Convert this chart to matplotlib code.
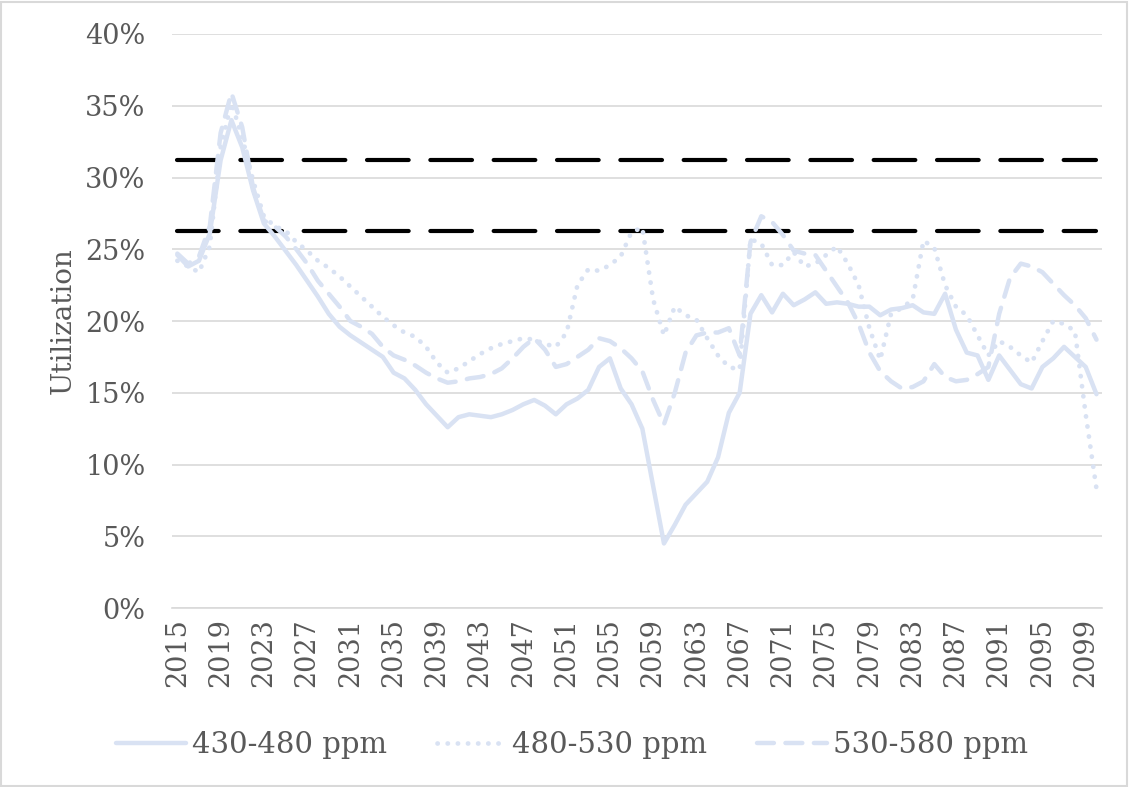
import numpy as np
import matplotlib
matplotlib.use("Agg")
import matplotlib.pyplot as plt
from matplotlib.patches import Rectangle

# annual utilization (%)
years = list(range(2015, 2101))

ppm_430_480 = [
    24.6, 23.8, 24.2, 26.1, 31.2, 34.0, 32.1, 29.1, 26.8, 25.9,   # 2015-2024
    24.9, 23.9, 22.8, 21.7, 20.5, 19.6, 19.0, 18.5, 18.0, 17.5,   # 2025-2034
    16.4, 16.0, 15.2, 14.2, 13.4, 12.6, 13.3, 13.5, 13.4, 13.3,   # 2035-2044
    13.5, 13.8, 14.2, 14.5, 14.1, 13.5, 14.2, 14.6, 15.2, 16.8,   # 2045-2054
    17.4, 15.3, 14.2, 12.5, 8.5, 4.5, 5.8, 7.2, 8.0, 8.8,         # 2055-2064
    10.5, 13.6, 15.0, 20.5, 21.8, 20.6, 21.9, 21.1, 21.5, 22.0,   # 2065-2074
    21.2, 21.3, 21.2, 21.0, 21.0, 20.4, 20.8, 20.9, 21.1, 20.6,   # 2075-2084
    20.5, 21.9, 19.4, 17.8, 17.6, 15.9, 17.6, 16.6, 15.6, 15.3,   # 2085-2094
    16.8, 17.4, 18.2, 17.5, 16.8, 14.9,                           # 2095-2100
]

ppm_480_530 = [
    24.2, 23.8, 23.4, 25.2, 32.1, 35.2, 32.8, 29.8, 27.3, 26.6,
    26.3, 25.5, 24.9, 24.2, 23.7, 23.1, 22.4, 21.7, 21.0, 20.3,
    19.7, 19.2, 18.9, 18.2, 17.1, 16.4, 16.7, 17.2, 17.7, 18.1,
    18.4, 18.6, 18.8, 18.7, 18.4, 18.2, 19.2, 22.5, 23.6, 23.5,
    23.9, 24.5, 26.2, 26.5, 21.5, 19.0, 21.0, 20.4, 20.1, 18.8,
    17.6, 16.8, 16.6, 25.7, 25.4, 23.9, 23.9, 24.8, 23.8, 24.0,
    24.6, 25.2, 24.0, 22.5, 19.5, 17.3, 20.5, 20.9, 21.5, 25.6,
    25.1, 22.5, 21.0, 20.4, 19.0, 17.6, 18.6, 18.2, 17.6, 17.1,
    18.6, 20.0, 19.8, 19.3, 13.5, 8.3,
]

ppm_530_580 = [
    24.7, 24.0, 24.5, 26.6, 33.1, 35.9, 33.5, 29.3, 27.0, 26.6,
    25.9, 25.0, 24.0, 22.8, 21.9, 21.0, 20.0, 19.6, 19.1, 18.2,
    17.6, 17.3, 16.9, 16.4, 16.0, 15.7, 15.8, 16.0, 16.1, 16.3,
    16.7, 17.4, 18.2, 18.8, 18.0, 16.8, 17.0, 17.5, 18.0, 18.8,
    18.6, 18.1, 17.4, 16.5, 14.5, 12.8, 15.0, 17.8, 19.0, 19.2,
    19.2, 19.5, 17.6, 25.5, 27.3, 26.9, 26.0, 24.9, 24.7, 24.6,
    23.5, 22.4, 21.3, 19.8, 17.8, 16.5, 15.8, 15.3, 15.4, 15.8,
    17.0, 16.1, 15.8, 15.9, 16.3, 16.8, 20.5, 23.0, 24.0, 23.8,
    23.4, 22.6, 21.8, 21.1, 20.2, 18.7,
]

upper_limit = 31.2
lower_limit = 26.3

series_color = "#d9e2f3"
text_color = "#595959"
grid_color = "#d9d9d9"

plt.rcParams["font.family"] = ["DejaVu Serif"]

fig = plt.figure(figsize=(11.29, 7.87), dpi=100)
ax = fig.add_axes([0.1523, 0.2274, 0.8237, 0.7294])

y1 = np.array(ppm_430_480) / 100
y2 = np.array(ppm_480_530) / 100
y3 = np.array(ppm_530_580) / 100

ax.plot(years, [upper_limit / 100] * len(years), color="black", lw=3,
        dashes=(10, 5.2), dash_capstyle="round", label="_nolegend_", zorder=2)
ax.plot(years, [lower_limit / 100] * len(years), color="black", lw=3,
        dashes=(10, 5.2), dash_capstyle="round", label="_nolegend_", zorder=2)

ax.plot(years, y1, color=series_color, lw=3.2, solid_joinstyle="round",
        solid_capstyle="round", label="430-480 ppm", zorder=3)
ax.plot(years, y2, color=series_color, lw=3.4, dashes=(0.05, 2.1),
        dash_capstyle="round", label="480-530 ppm", zorder=3)
ax.plot(years, y3, color=series_color, lw=3.2, dashes=(3.8, 2.6),
        dash_capstyle="round", label="530-580 ppm", zorder=3)

ax.set_xlim(2014.5, 2100.5)
ax.set_ylim(0, 0.40)
ax.set_yticks(np.arange(0, 0.401, 0.05))
ax.set_yticklabels([f"{int(round(v * 100))}%" for v in np.arange(0, 0.401, 0.05)])
ax.set_xticks(years[::4])
ax.set_xticklabels([str(y) for y in years[::4]], rotation=90)

ax.grid(axis="y", color=grid_color, lw=1.2)
ax.set_axisbelow(True)
for s in ["top", "right", "left"]:
    ax.spines[s].set_visible(False)
ax.spines["bottom"].set_color(grid_color)
ax.spines["bottom"].set_linewidth(1.2)
ax.tick_params(length=0, labelsize=19.5, colors=text_color, pad=7)
ax.tick_params(axis="y", pad=19)

ax.set_ylabel("Utilization", fontsize=20, color=text_color, labelpad=6)

leg = fig.legend(loc="center", bbox_to_anchor=(0.5066, 0.053), ncol=3,
                 frameon=False, fontsize=21, handlelength=2.4,
                 handletextpad=0.2, columnspacing=1.7)
for t in leg.get_texts():
    t.set_color(text_color)

fig.add_artist(Rectangle((0.001, 0.001), 0.997, 0.997, transform=fig.transFigure,
                         fill=False, edgecolor=grid_color, lw=1.5))

fig.savefig("out.png", dpi=100, facecolor="white")
